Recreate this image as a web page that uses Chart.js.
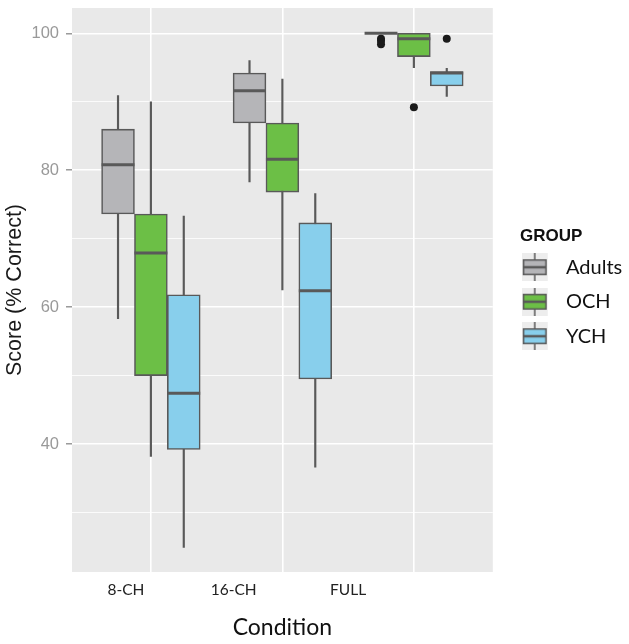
<!DOCTYPE html>
<html>
<head>
<meta charset="utf-8">
<script src="https://cdn.jsdelivr.net/npm/chart.js@4.4.0/dist/chart.umd.min.js"></script>
<style>
  html, body { margin: 0; padding: 0; background: #fff; }
  #wrap { width: 629px; height: 644px; }
</style>
</head>
<body>
<div id="wrap"><canvas id="chart" width="629" height="644"></canvas></div>
<script>
// Categories
const conditions = ['8-CH', '16-CH', 'FULL'];
const groups = ['Adults', 'OCH', 'YCH'];

// Box statistics per group, one value per condition
const adultsMin    = [58.3, 78.3, 100];
const adultsQ1     = [73.6, 86.9, 100];
const adultsMedian = [80.8, 91.6, 100];
const adultsQ3     = [86.0, 94.2, 100];
const adultsMax    = [90.9, 96.0, 100];
const adultsOutliers = [[], [], [99.2, 98.9, 98.4]];

const ochMin    = [38.2, 62.5, 95.0];
const ochQ1     = [50.0, 76.8, 96.6];
const ochMedian = [67.9, 81.6, 99.2];
const ochQ3     = [73.6, 86.9, 100];
const ochMax    = [90.0, 93.3, 100];
const ochOutliers = [[], [], [89.2]];

const ychMin    = [24.9, 36.6, 90.8];
const ychQ1     = [39.2, 49.5, 92.3];
const ychMedian = [47.4, 62.4, 94.2];
const ychQ3     = [61.8, 72.3, 94.4];
const ychMax    = [73.3, 76.6, 94.9];
const ychOutliers = [[], [], [99.2]];

// Axis ticks
const yTicks = [30, 40, 50, 60, 70, 80, 90, 100];

const stats = [
  {min: adultsMin, q1: adultsQ1, med: adultsMedian, q3: adultsQ3, max: adultsMax, out: adultsOutliers},
  {min: ochMin, q1: ochQ1, med: ochMedian, q3: ochQ3, max: ochMax, out: ochOutliers},
  {min: ychMin, q1: ychQ1, med: ychMedian, q3: ychQ3, max: ychMax, out: ychOutliers}
];

const fills = ['#b5b5b8', '#6cbf46', '#88cfec'];
const lineColor = '#595959';
const dodge = [-0.25, 0, 0.25];
const labelPos = [0.81, 1.63, 2.5]; // where the condition labels sit under the panel

function xAt(g, i) {
  return i + 1 + dodge[g];
}

// half the box width, in pixels, from the x scale
function halfBox(ctx) {
  const x = ctx.chart.scales.x;
  return x.getPixelForValue(1.125) - x.getPixelForValue(1);
}

const datasets = [];
stats.forEach((s, g) => {
  datasets.push({
    type: 'bar', label: groups[g] + ' whiskers', order: 4, grouped: false,
    data: conditions.map((c, i) => ({x: xAt(g, i), y: [s.min[i], s.max[i]]})),
    backgroundColor: lineColor, borderWidth: 0, barThickness: 1.5
  });
  datasets.push({
    type: 'bar', label: groups[g], order: 3, grouped: false,
    data: conditions.map((c, i) => ({x: xAt(g, i), y: [s.q1[i], s.q3[i]]})),
    backgroundColor: fills[g], borderColor: lineColor, borderWidth: 1.6, borderSkipped: false,
    categoryPercentage: 1, barPercentage: 1
  });
  datasets.push({
    type: 'scatter', label: groups[g] + ' median', order: 2, xAxisID: 'x', yAxisID: 'y',
    data: conditions.map((c, i) => ({x: xAt(g, i), y: s.med[i]})),
    pointStyle: 'line', radius: halfBox, borderColor: lineColor, borderWidth: 3
  });
  const pts = [];
  s.out.forEach((vals, i) => vals.forEach(v => pts.push({x: xAt(g, i), y: v})));
  datasets.push({
    type: 'scatter', label: groups[g] + ' outliers', order: 1, xAxisID: 'x', yAxisID: 'y',
    data: pts, pointStyle: 'circle', radius: 4, backgroundColor: '#1b1b1b', borderWidth: 0
  });
});

// little boxplot glyph for the legend keys
function legendIcon(fill) {
  const c = document.createElement('canvas');
  c.width = 47;
  c.height = 28;
  const g = c.getContext('2d');
  g.fillStyle = '#ededed';
  g.fillRect(0, 0, 26, 28);
  g.strokeStyle = lineColor;
  g.lineWidth = 1.5;
  g.beginPath();
  g.moveTo(13, 0);
  g.lineTo(13, 28);
  g.stroke();
  g.fillStyle = fill;
  g.fillRect(1, 6, 24, 16);
  g.strokeRect(1.75, 6.75, 22.5, 14.5);
  g.lineWidth = 2.5;
  g.beginPath();
  g.moveTo(1, 14);
  g.lineTo(25, 14);
  g.stroke();
  return c;
}

const panelBg = {
  id: 'panelBg',
  beforeDraw(chart) {
    const {ctx, chartArea: a} = chart;
    ctx.save();
    ctx.fillStyle = '#e9e9e9';
    ctx.fillRect(a.left, a.top, a.right - a.left, a.bottom - a.top);
    ctx.restore();
  }
};

const legendShift = {
  id: 'legendShift',
  afterLayout(chart) {
    const lg = chart.legend;
    const d = 520 - lg.left;
    lg.left += d;
    lg.right += d;
  }
};

new Chart(document.getElementById('chart'), {
  type: 'bar',
  data: {datasets: datasets},
  plugins: [panelBg, legendShift],
  options: {
    responsive: false,
    animation: false,
    events: [],
    layout: {padding: {top: 8, right: 24, bottom: 0, left: 0}},
    scales: {
      x: {
        type: 'linear', position: 'bottom', min: 0.4, max: 3.6, offset: false,
        afterBuildTicks: s => { s.ticks = [1, 2, 3].map(v => ({value: v})); },
        afterFit: s => { s.height = 0; },
        grid: {color: '#ffffff', lineWidth: 1.6, drawTicks: false, offset: false},
        border: {display: false},
        ticks: {display: false}
      },
      xl: {
        type: 'linear', position: 'bottom', min: 0.4, max: 3.6, offset: false,
        afterBuildTicks: s => { s.ticks = labelPos.map(v => ({value: v})); },
        afterFit: s => { s.height = 72; },
        grid: {display: false, drawTicks: false, offset: false},
        border: {display: false},
        ticks: {
          callback: (v, i) => conditions[i],
          color: '#222', font: {family: 'Lato', size: 15.5}, padding: 9,
          maxRotation: 0, autoSkip: false
        },
        title: {
          display: true, text: 'Condition', color: '#111',
          font: {family: 'Lato', size: 23}, padding: {top: 0, bottom: 3}
        }
      },
      y: {
        min: 21.3, max: 103.7,
        afterBuildTicks: s => { s.ticks = yTicks.map(v => ({value: v})); },
        afterFit: s => {
          s.width = 72;
          s.paddingTop = 0;
          s.paddingBottom = 0;
        },
        grid: {
          color: '#ffffff',
          lineWidth: c => (c.tick && c.tick.value % 20 === 0 ? 1.6 : 0.8),
          tickColor: c => (c.tick && c.tick.value % 20 === 0 ? '#8a8a8a' : 'rgba(0,0,0,0)'),
          tickLength: 6, tickWidth: 1.3
        },
        border: {display: false},
        ticks: {
          callback: v => (v % 20 === 0 ? v : ''),
          color: '#999', font: {family: 'Liberation Sans', size: 16.5}, padding: 7
        },
        title: {
          display: true, text: 'Score (% Correct)', color: '#1a1a1a',
          font: {family: 'Liberation Sans', size: 21.5}, padding: {top: 2, bottom: 0}
        }
      }
    },
    plugins: {
      tooltip: {enabled: false},
      legend: {
        position: 'right',
        fullSize: false,
        title: {
          display: true, text: 'GROUP', position: 'start', color: '#111',
          font: {family: 'Liberation Sans', size: 17, weight: 'bold', lineHeight: 0.85},
          padding: {top: 9, bottom: 0}
        },
        labels: {
          usePointStyle: true, pointStyleWidth: 21.5, padding: 14.5,
          color: '#222', font: {family: 'Lato', size: 20},
          generateLabels: () => groups.map((g, i) => ({
            text: g, pointStyle: legendIcon(fills[i]), fillStyle: fills[i],
            strokeStyle: lineColor, lineWidth: 0, hidden: false, datasetIndex: i * 4 + 1
          }))
        }
      }
    }
  }
});
</script>
</body>
</html>
